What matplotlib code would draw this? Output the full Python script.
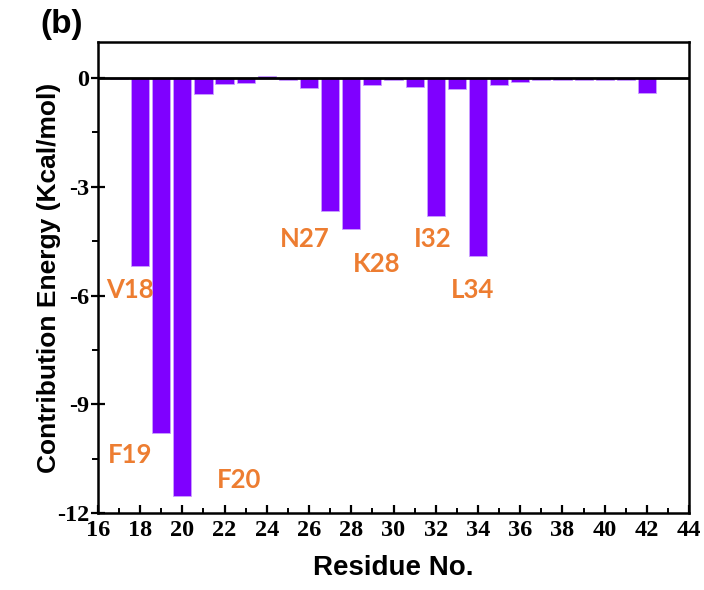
import numpy as np
import matplotlib
matplotlib.use("Agg")
import matplotlib.pyplot as plt
from matplotlib.ticker import MultipleLocator

# residue numbers and their contribution energies (kcal/mol)
residues = list(range(17, 43))
energies = [-0.03, -5.18, -9.79, -11.52, -0.43, -0.17, -0.13, 0.07, -0.04,
            -0.28, -3.66, -4.17, -0.20, -0.04, -0.25, -3.81, -0.29, -4.91,
            -0.19, -0.10, -0.04, -0.04, -0.04, -0.04, -0.04, -0.41]

# hot-spot labels and where they sit
hot_names = ["V18", "F19", "F20", "N27", "K28", "I32", "L34"]
hot_x = [17.5, 17.55, 22.67, 25.8, 29.2, 31.87, 33.76]
hot_y = [-5.85, -10.39, -11.1, -4.43, -5.13, -4.43, -5.85]

x_ticks = list(range(16, 45, 2))
x_tick_labels = [str(v) for v in x_ticks]
y_ticks = [0, -3, -6, -9, -12]
y_tick_labels = ["0", "-3", "-6", "-9", "-12"]

bar_color = "#7F00FF"
label_color = "#ED7D31"

# tick labels are bold Times-like
plt.rcParams["font.family"] = "serif"
plt.rcParams["font.serif"] = ["Liberation Serif"]
plt.rcParams["font.weight"] = "bold"
plt.rcParams["xtick.labelsize"] = 17.5
plt.rcParams["ytick.labelsize"] = 17.5

fig = plt.figure(figsize=(7.04, 5.90), dpi=100)
ax = fig.add_axes([0.139, 0.1305, 0.840, 0.7985])

ax.bar(residues, energies, width=0.86, color=bar_color,
       edgecolor="#C9A0FF", linewidth=0.6, zorder=2)
ax.axhline(0, color="black", linewidth=2, zorder=3)

for name, x, y in zip(hot_names, hot_x, hot_y):
    ax.text(x, y, name, color=label_color, fontsize=18.5, fontweight="bold",
            family=["Lato", "DejaVu Sans"], ha="center", va="center")

ax.set_xlim(16, 44)
ax.set_ylim(-12, 1)

ax.set_xticks(x_ticks)
ax.set_xticklabels(x_tick_labels)
ax.set_yticks(y_ticks)
ax.set_yticklabels(y_tick_labels)
ax.xaxis.set_minor_locator(MultipleLocator(1))
ax.yaxis.set_minor_locator(MultipleLocator(1.5))

ax.tick_params(axis="x", which="major", direction="in", length=6, width=1.6, pad=5)
ax.tick_params(axis="x", which="minor", direction="in", length=3.5, width=1.4)
ax.tick_params(axis="y", which="major", direction="inout", length=10, width=1.6, pad=1)
ax.tick_params(axis="y", which="minor", direction="out", length=4, width=1.4)

for side in ["left", "bottom", "top", "right"]:
    ax.spines[side].set_linewidth(1.8)
    ax.spines[side].set_color("black")

ax.set_xlabel("Residue No.", fontsize=20, fontweight="bold",
              family="Liberation Sans", labelpad=10)
ax.set_ylabel("Contribution Energy (Kcal/mol)", fontsize=19, fontweight="bold",
              family="Liberation Sans")
ax.yaxis.set_label_coords(-0.062, 0.5)

fig.text(40 / 704, 1 - 9 / 590, "(b)", fontsize=24, fontweight="bold",
         family="Liberation Sans", ha="left", va="top")

fig.savefig("out.png", dpi=100)
